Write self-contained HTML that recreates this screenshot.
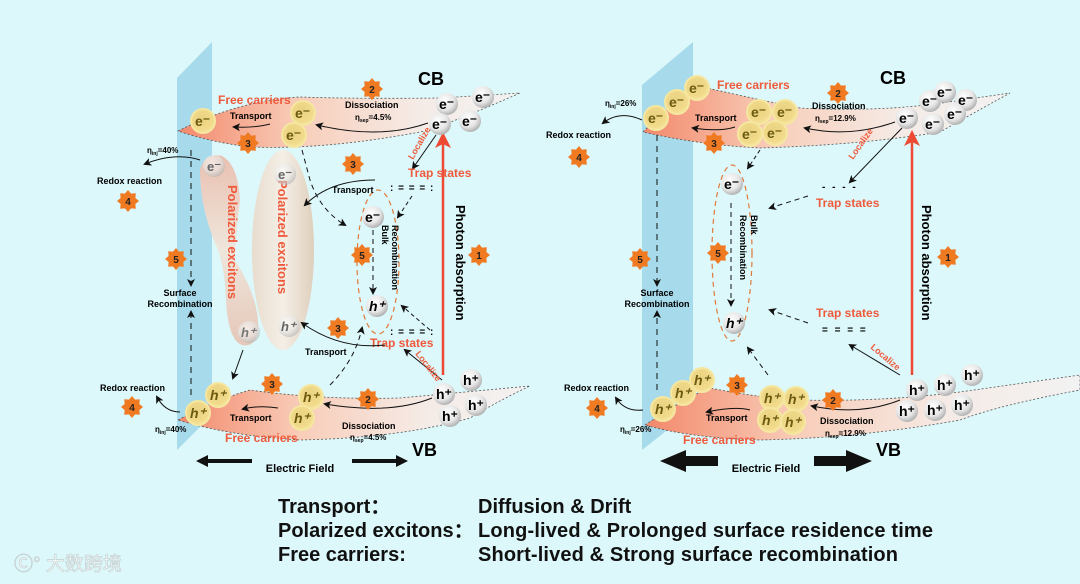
<!DOCTYPE html>
<html><head><meta charset="utf-8"><style>
html,body{margin:0;padding:0;background:#dcf8fa;}
svg{display:block;font-family:"Liberation Sans",Arial,sans-serif;}
.b{font-weight:bold}
.rd{fill:#ef5a3c;font-weight:bold}
</style></head><body>
<svg width="1080" height="584" viewBox="0 0 1080 584" xmlns="http://www.w3.org/2000/svg">
<defs>
<radialGradient id="gp" cx="0.4" cy="0.35" r="0.7"><stop offset="0" stop-color="#ffffff"/><stop offset="0.6" stop-color="#e6e6e6"/><stop offset="1" stop-color="#a8a8a8"/></radialGradient>
<radialGradient id="yp" cx="0.45" cy="0.4" r="0.65"><stop offset="0" stop-color="#e9d280"/><stop offset="0.7" stop-color="#f1da8a"/><stop offset="1" stop-color="#f7e9a8"/></radialGradient>
<linearGradient id="band" x1="0" x2="1" y1="0" y2="0"><stop offset="0" stop-color="#f3886a"/><stop offset="0.35" stop-color="#f8cdb9"/><stop offset="0.7" stop-color="#f5ebe6"/><stop offset="1" stop-color="#f2f2f2"/></linearGradient>
<linearGradient id="exc" x1="0" x2="1"><stop offset="0" stop-color="#e8dccd"/><stop offset="0.5" stop-color="#f4efe6"/><stop offset="1" stop-color="#dfcfbd"/></linearGradient>
<linearGradient id="exc2" x1="0" x2="0" y1="0" y2="1"><stop offset="0" stop-color="#e9c0b0"/><stop offset="0.5" stop-color="#efe6dc"/><stop offset="1" stop-color="#e5c7b8"/></linearGradient>
<polygon id="st" points="0,-11 3.06,-7.39 7.78,-7.78 7.39,-3.06 11,0 7.39,3.06 7.78,7.78 3.06,7.39 0,11 -3.06,7.39 -7.78,7.78 -7.39,3.06 -11,0 -7.39,-3.06 -7.78,-7.78 -3.06,-7.39" fill="#f07a22"/>
<circle id="g" r="11" fill="url(#gp)"/>
<circle id="y" r="12" fill="url(#yp)" stroke="#f5e6a0" stroke-width="2"/>
<marker id="ah" markerWidth="8" markerHeight="8" refX="6" refY="4" orient="auto" markerUnits="userSpaceOnUse"><path d="M0,0 L8,4 L0,8 L2,4 z" fill="#111"/></marker>
<marker id="ar" markerWidth="16" markerHeight="16" refX="8" refY="8" orient="auto" markerUnits="userSpaceOnUse"><path d="M0,0 L16,8 L0,16 L4,8 z" fill="#ee4a33"/></marker>
</defs>
<rect width="1080" height="584" fill="#dcf8fa"/>

<!-- ============ LEFT PANEL ============ -->
<polygon points="177,78 212,42 212,415 177,450" fill="#a7dbec"/>
<path d="M178,131 Q240,100 300,97 Q360,99 440,98 L520,93 Q470,115 430,130 Q330,150 250,147 Q210,142 178,131 Z" fill="url(#band)" stroke="#555" stroke-width="0.8" stroke-dasharray="2,2"/>
<path d="M178,420 Q215,400 250,390 Q320,400 400,398 L530,386 Q500,400 470,418 Q400,438 300,440 Q230,436 178,420 Z" fill="url(#band)" stroke="#555" stroke-width="0.8" stroke-dasharray="2,2"/>
<ellipse cx="283" cy="250" rx="31" ry="100" fill="url(#exc)"/>
<path d="M200,170 Q205,152 222,156 Q238,165 240,200 Q235,240 235,260 Q260,300 258,330 Q255,348 242,345 Q228,340 226,300 Q225,270 218,250 Q200,210 200,170 Z" fill="url(#exc2)"/>
<text class="rd" font-size="13" transform="translate(228,185) rotate(90)">Polarized excitons</text>
<text class="rd" font-size="13" transform="translate(278,180) rotate(90)">Polarized excitons</text>
<use href="#g" x="214" y="166" opacity="0.6"/><text x="207" y="171" font-size="13" class="b" fill="#666">e⁻</text>
<use href="#g" x="285" y="174" opacity="0.6"/><text x="278" y="179" font-size="13" class="b" fill="#666">e⁻</text>
<use href="#g" x="249" y="332" opacity="0.6"/><text x="241" y="337" font-size="13" class="b" font-style="italic" fill="#777">h⁺</text>
<use href="#g" x="289" y="326" opacity="0.6"/><text x="281" y="331" font-size="13" class="b" font-style="italic" fill="#666">h⁺</text>
<ellipse cx="378" cy="262" rx="21" ry="72" fill="none" stroke="#e07a3a" stroke-width="1.2" stroke-dasharray="5,4"/>
<use href="#g" x="373" y="217"/><text x="365" y="222" font-size="14" class="b">e⁻</text>
<use href="#g" x="377" y="306"/><text x="369" y="311" font-size="14" class="b" font-style="italic">h⁺</text>
<line x1="373" y1="230" x2="373" y2="293" stroke="#111" stroke-dasharray="5,4" marker-end="url(#ah)"/>
<text font-size="9" class="b" transform="translate(382,225) rotate(90)">Bulk</text>
<text font-size="9" class="b" transform="translate(392,225) rotate(90)">Recombination</text>
<line x1="443" y1="375" x2="443" y2="140" stroke="#ee4a33" stroke-width="2.5" marker-end="url(#ar)"/>
<text font-size="13" class="b" transform="translate(456,205) rotate(90)">Photon absorption</text>
<line x1="191" y1="150" x2="191" y2="285" stroke="#111" stroke-dasharray="6,5" marker-end="url(#ah)"/>
<line x1="191" y1="395" x2="191" y2="312" stroke="#111" stroke-dasharray="6,5" marker-end="url(#ah)"/>
<text x="180" y="296" font-size="9" class="b" text-anchor="middle">Surface</text>
<text x="180" y="307" font-size="9" class="b" text-anchor="middle">Recombination</text>
<use href="#y" x="203" y="121"/><text x="195" y="126" font-size="14" class="b" fill="#6b5a10">e⁻</text>
<use href="#y" x="303" y="113"/><text x="295" y="118" font-size="14" class="b" fill="#6b5a10">e⁻</text>
<use href="#y" x="294" y="135"/><text x="286" y="140" font-size="14" class="b" fill="#6b5a10">e⁻</text>
<use href="#g" x="447" y="104"/><text x="439" y="109" font-size="14" class="b">e⁻</text>
<use href="#g" x="483" y="97"/><text x="475" y="102" font-size="14" class="b">e⁻</text>
<use href="#g" x="440" y="124"/><text x="432" y="129" font-size="14" class="b">e⁻</text>
<use href="#g" x="470" y="121"/><text x="462" y="126" font-size="14" class="b">e⁻</text>
<text x="418" y="85" font-size="18" class="b">CB</text>
<text x="218" y="104" font-size="12" class="rd">Free carriers</text>
<text x="230" y="119" font-size="9" class="b">Transport</text>
<path d="M270,124 Q255,128 234,127" fill="none" stroke="#111" marker-end="url(#ah)"/>
<text x="345" y="108" font-size="9" class="b">Dissociation</text>
<text x="355" y="120" font-size="8" class="b">η<tspan font-size="5" dy="2">sep</tspan><tspan dy="-2">=4.5%</tspan></text>
<path d="M428,123 Q380,140 317,125" fill="none" stroke="#111" marker-end="url(#ah)"/>
<line x1="436" y1="135" x2="413" y2="168" stroke="#111" marker-end="url(#ah)"/>
<text font-size="9" class="rd" transform="translate(413,160) rotate(-60)">Localize</text>
<text x="408" y="177" font-size="12" class="rd">Trap states</text>
<text x="390" y="191" font-size="10" class="b" letter-spacing="1">: = = = :</text>
<text x="332" y="193" font-size="9" class="b">Transport</text>
<path d="M375,180 Q330,180 305,205" fill="none" stroke="#111" marker-end="url(#ah)"/>
<path d="M302,150 L310,180 Q320,210 345,225" fill="none" stroke="#111" stroke-dasharray="5,4" marker-end="url(#ah)"/>
<line x1="412" y1="196" x2="398" y2="217" stroke="#111" stroke-dasharray="4,3" marker-end="url(#ah)"/>
<text x="390" y="335" font-size="10" class="b" letter-spacing="1">: = = = :</text>
<text x="370" y="347" font-size="12" class="rd">Trap states</text>
<text x="305" y="355" font-size="9" class="b">Transport</text>
<path d="M385,345 Q340,350 302,323" fill="none" stroke="#111" marker-end="url(#ah)"/>
<line x1="430" y1="330" x2="402" y2="306" stroke="#111" stroke-dasharray="4,3" marker-end="url(#ah)"/>
<path d="M330,385 Q355,360 362,328" fill="none" stroke="#111" stroke-dasharray="5,4" marker-end="url(#ah)"/>
<line x1="442" y1="380" x2="405" y2="350" stroke="#111" marker-end="url(#ah)"/>
<text font-size="9" class="rd" transform="translate(415,354) rotate(52)">Localize</text>
<line x1="243" y1="350" x2="233" y2="378" stroke="#111" marker-end="url(#ah)"/>
<use href="#y" x="218" y="395"/><text x="210" y="400" font-size="14" class="b" font-style="italic" fill="#6b5a10">h⁺</text>
<use href="#y" x="198" y="413"/><text x="190" y="418" font-size="14" class="b" font-style="italic" fill="#6b5a10">h⁺</text>
<use href="#y" x="311" y="397"/><text x="303" y="402" font-size="14" class="b" font-style="italic" fill="#6b5a10">h⁺</text>
<use href="#y" x="302" y="418"/><text x="294" y="423" font-size="14" class="b" font-style="italic" fill="#6b5a10">h⁺</text>
<use href="#g" x="444" y="394"/><text x="436" y="399" font-size="14" class="b">h⁺</text>
<use href="#g" x="471" y="380"/><text x="463" y="385" font-size="14" class="b">h⁺</text>
<use href="#g" x="450" y="416"/><text x="442" y="421" font-size="14" class="b">h⁺</text>
<use href="#g" x="476" y="405"/><text x="468" y="410" font-size="14" class="b">h⁺</text>
<text x="230" y="421" font-size="9" class="b">Transport</text>
<path d="M278,408 Q260,405 243,409" fill="none" stroke="#111" marker-end="url(#ah)"/>
<text x="225" y="442" font-size="12" class="rd">Free carriers</text>
<text x="342" y="429" font-size="9" class="b">Dissociation</text>
<text x="350" y="440" font-size="8" class="b">η<tspan font-size="5" dy="2">sep</tspan><tspan dy="-2">=4.5%</tspan></text>
<path d="M432,398 Q390,415 325,404" fill="none" stroke="#111" marker-end="url(#ah)"/>
<text x="412" y="456" font-size="18" class="b">VB</text>
<text x="100" y="391" font-size="9" class="b">Redox reaction</text>
<path d="M180,412 Q165,412 157,397" fill="none" stroke="#111" marker-end="url(#ah)"/>
<text x="155" y="432" font-size="8" class="b">η<tspan font-size="5" dy="2">inj</tspan><tspan dy="-2">=40%</tspan></text>
<text x="97" y="184" font-size="9" class="b">Redox reaction</text>
<path d="M200,160 Q175,152 145,164" fill="none" stroke="#111" marker-end="url(#ah)"/>
<text x="147" y="153" font-size="8" class="b">η<tspan font-size="5" dy="2">inj</tspan><tspan dy="-2">=40%</tspan></text>
<path d="M196,461 L208,455 L208,459 L252,459 L252,463 L208,463 L208,467 Z" fill="#111"/>
<path d="M408,461 L396,455 L396,459 L352,459 L352,463 L396,463 L396,467 Z" fill="#111"/>
<text x="300" y="472" font-size="11" class="b" text-anchor="middle">Electric Field</text>
<g font-size="10" class="b" text-anchor="middle" fill="#222">
<use href="#st" x="372" y="89"/><text x="372" y="93">2</text>
<use href="#st" x="248" y="143"/><text x="248" y="147">3</text>
<use href="#st" x="353" y="164"/><text x="353" y="168">3</text>
<use href="#st" x="128" y="201"/><text x="128" y="205">4</text>
<use href="#st" x="176" y="259"/><text x="176" y="263">5</text>
<use href="#st" x="362" y="255"/><text x="362" y="259">5</text>
<use href="#st" x="479" y="255"/><text x="479" y="259">1</text>
<use href="#st" x="338" y="328"/><text x="338" y="332">3</text>
<use href="#st" x="272" y="384"/><text x="272" y="388">3</text>
<use href="#st" x="368" y="399"/><text x="368" y="403">2</text>
<use href="#st" x="132" y="407"/><text x="132" y="411">4</text>
</g>

<!-- ============ RIGHT PANEL ============ -->
<polygon points="642,85 693,42 693,410 642,450" fill="#a7dbec"/>
<path d="M643,132 Q680,95 707,88 Q760,100 800,108 Q870,112 935,104 L1010,93 Q970,115 940,132 Q860,145 760,148 Q700,145 643,132 Z" fill="url(#band)" stroke="#555" stroke-width="0.8" stroke-dasharray="2,2"/>
<path d="M645,425 Q690,395 710,388 Q760,398 800,400 Q880,402 960,392 L1080,375 L1080,390 Q1000,405 960,420 Q860,438 760,440 Q690,438 645,425 Z" fill="url(#band)" stroke="#555" stroke-width="0.8" stroke-dasharray="2,2"/>
<ellipse cx="732" cy="253" rx="20" ry="88" fill="none" stroke="#e07a3a" stroke-width="1.2" stroke-dasharray="5,4"/>
<use href="#g" x="732" y="184"/><text x="724" y="189" font-size="14" class="b">e⁻</text>
<use href="#g" x="734" y="323"/><text x="726" y="328" font-size="14" class="b" font-style="italic">h⁺</text>
<line x1="731" y1="203" x2="731" y2="305" stroke="#111" stroke-dasharray="5,4" marker-end="url(#ah)"/>
<text font-size="9" class="b" transform="translate(751,215) rotate(90)">Bulk</text>
<text font-size="9" class="b" transform="translate(740,215) rotate(90)">Recombination</text>
<line x1="912" y1="375" x2="912" y2="138" stroke="#ee4a33" stroke-width="2.5" marker-end="url(#ar)"/>
<text font-size="13" class="b" transform="translate(922,205) rotate(90)">Photon absorption</text>
<line x1="657" y1="135" x2="657" y2="285" stroke="#111" stroke-dasharray="6,5" marker-end="url(#ah)"/>
<line x1="657" y1="390" x2="657" y2="312" stroke="#111" stroke-dasharray="6,5" marker-end="url(#ah)"/>
<text x="657" y="296" font-size="9" class="b" text-anchor="middle">Surface</text>
<text x="657" y="307" font-size="9" class="b" text-anchor="middle">Recombination</text>
<use href="#y" x="656" y="118"/><text x="648" y="123" font-size="14" class="b" fill="#6b5a10">e⁻</text>
<use href="#y" x="677" y="102"/><text x="669" y="107" font-size="14" class="b" fill="#6b5a10">e⁻</text>
<use href="#y" x="697" y="88"/><text x="689" y="93" font-size="14" class="b" fill="#6b5a10">e⁻</text>
<use href="#y" x="759" y="112"/><text x="751" y="117" font-size="14" class="b" fill="#6b5a10">e⁻</text>
<use href="#y" x="785" y="112"/><text x="777" y="117" font-size="14" class="b" fill="#6b5a10">e⁻</text>
<use href="#y" x="750" y="134"/><text x="742" y="139" font-size="14" class="b" fill="#6b5a10">e⁻</text>
<use href="#y" x="775" y="133"/><text x="767" y="138" font-size="14" class="b" fill="#6b5a10">e⁻</text>
<use href="#g" x="907" y="118"/><text x="899" y="123" font-size="14" class="b">e⁻</text>
<use href="#g" x="930" y="101"/><text x="922" y="106" font-size="14" class="b">e⁻</text>
<use href="#g" x="945" y="92"/><text x="937" y="97" font-size="14" class="b">e⁻</text>
<use href="#g" x="966" y="100"/><text x="958" y="105" font-size="14" class="b">e⁻</text>
<use href="#g" x="933" y="124"/><text x="925" y="129" font-size="14" class="b">e⁻</text>
<use href="#g" x="955" y="114"/><text x="947" y="119" font-size="14" class="b">e⁻</text>
<text x="880" y="84" font-size="18" class="b">CB</text>
<text x="717" y="89" font-size="12" class="rd">Free carriers</text>
<text x="695" y="121" font-size="9" class="b">Transport</text>
<path d="M735,127 Q720,132 693,128" fill="none" stroke="#111" marker-end="url(#ah)"/>
<text x="812" y="109" font-size="9" class="b">Dissociation</text>
<text x="815" y="121" font-size="8" class="b">η<tspan font-size="5" dy="2">sep</tspan><tspan dy="-2">=12.9%</tspan></text>
<path d="M895,122 Q850,138 805,128" fill="none" stroke="#111" marker-end="url(#ah)"/>
<line x1="902" y1="128" x2="850" y2="182" stroke="#111" marker-end="url(#ah)"/>
<text font-size="9" class="rd" transform="translate(853,160) rotate(-55)">Localize</text>
<text x="822" y="190" font-size="10" class="b" letter-spacing="2">- - - -</text>
<text x="816" y="207" font-size="12" class="rd">Trap states</text>
<line x1="808" y1="196" x2="770" y2="208" stroke="#111" stroke-dasharray="5,4" marker-end="url(#ah)"/>
<line x1="760" y1="150" x2="748" y2="168" stroke="#111" stroke-dasharray="4,3" marker-end="url(#ah)"/>
<text x="816" y="317" font-size="12" class="rd">Trap states</text>
<text x="822" y="333" font-size="10" class="b" letter-spacing="2">= = = =</text>
<line x1="808" y1="323" x2="770" y2="310" stroke="#111" stroke-dasharray="5,4" marker-end="url(#ah)"/>
<line x1="768" y1="375" x2="748" y2="348" stroke="#111" stroke-dasharray="5,4" marker-end="url(#ah)"/>
<line x1="900" y1="375" x2="850" y2="345" stroke="#111" marker-end="url(#ah)"/>
<text font-size="9" class="rd" transform="translate(870,348) rotate(40)">Localize</text>
<use href="#y" x="663" y="409"/><text x="655" y="414" font-size="14" class="b" font-style="italic" fill="#6b5a10">h⁺</text>
<use href="#y" x="683" y="393"/><text x="675" y="398" font-size="14" class="b" font-style="italic" fill="#6b5a10">h⁺</text>
<use href="#y" x="702" y="380"/><text x="694" y="385" font-size="14" class="b" font-style="italic" fill="#6b5a10">h⁺</text>
<use href="#y" x="772" y="398"/><text x="764" y="403" font-size="14" class="b" font-style="italic" fill="#6b5a10">h⁺</text>
<use href="#y" x="796" y="399"/><text x="788" y="404" font-size="14" class="b" font-style="italic" fill="#6b5a10">h⁺</text>
<use href="#y" x="770" y="420"/><text x="762" y="425" font-size="14" class="b" font-style="italic" fill="#6b5a10">h⁺</text>
<use href="#y" x="793" y="422"/><text x="785" y="427" font-size="14" class="b" font-style="italic" fill="#6b5a10">h⁺</text>
<use href="#g" x="917" y="390"/><text x="909" y="395" font-size="14" class="b">h⁺</text>
<use href="#g" x="945" y="385"/><text x="937" y="390" font-size="14" class="b">h⁺</text>
<use href="#g" x="972" y="375"/><text x="964" y="380" font-size="14" class="b">h⁺</text>
<use href="#g" x="907" y="411"/><text x="899" y="416" font-size="14" class="b">h⁺</text>
<use href="#g" x="935" y="410"/><text x="927" y="415" font-size="14" class="b">h⁺</text>
<use href="#g" x="962" y="405"/><text x="954" y="410" font-size="14" class="b">h⁺</text>
<text x="706" y="421" font-size="9" class="b">Transport</text>
<path d="M750,410 Q735,406 707,412" fill="none" stroke="#111" marker-end="url(#ah)"/>
<text x="683" y="444" font-size="12" class="rd">Free carriers</text>
<text x="820" y="424" font-size="9" class="b">Dissociation</text>
<text x="825" y="436" font-size="8" class="b">η<tspan font-size="5" dy="2">sep</tspan><tspan dy="-2">=12.9%</tspan></text>
<path d="M900,400 Q860,416 812,406" fill="none" stroke="#111" marker-end="url(#ah)"/>
<text x="876" y="456" font-size="18" class="b">VB</text>
<text x="564" y="391" font-size="9" class="b">Redox reaction</text>
<path d="M643,410 Q625,412 616,398" fill="none" stroke="#111" marker-end="url(#ah)"/>
<text x="620" y="432" font-size="8" class="b">η<tspan font-size="5" dy="2">inj</tspan><tspan dy="-2">=26%</tspan></text>
<text x="546" y="138" font-size="9" class="b">Redox reaction</text>
<path d="M642,120 Q620,110 603,123" fill="none" stroke="#111" marker-end="url(#ah)"/>
<text x="605" y="106" font-size="8" class="b">η<tspan font-size="5" dy="2">inj</tspan><tspan dy="-2">=26%</tspan></text>
<path d="M660,461 L686,450 L686,456 L718,456 L718,466 L686,466 L686,472 Z" fill="#111"/>
<path d="M872,461 L846,450 L846,456 L814,456 L814,466 L846,466 L846,472 Z" fill="#111"/>
<text x="766" y="472" font-size="11" class="b" text-anchor="middle">Electric Field</text>
<g font-size="10" class="b" text-anchor="middle" fill="#222">
<use href="#st" x="838" y="93"/><text x="838" y="97">2</text>
<use href="#st" x="714" y="143"/><text x="714" y="147">3</text>
<use href="#st" x="579" y="157"/><text x="579" y="161">4</text>
<use href="#st" x="640" y="259"/><text x="640" y="263">5</text>
<use href="#st" x="718" y="253"/><text x="718" y="257">5</text>
<use href="#st" x="948" y="257"/><text x="948" y="261">1</text>
<use href="#st" x="737" y="385"/><text x="737" y="389">3</text>
<use href="#st" x="833" y="400"/><text x="833" y="404">2</text>
<use href="#st" x="597" y="408"/><text x="597" y="412">4</text>
</g>

<g font-size="20" class="b" fill="#111">
<text x="278" y="513">Transport：</text>
<text x="478" y="513">Diffusion &amp; Drift</text>
<text x="278" y="537">Polarized excitons：</text>
<text x="478" y="537" textLength="455">Long-lived &amp; Prolonged surface residence time</text>
<text x="278" y="561">Free carriers:</text>
<text x="478" y="561" textLength="420">Short-lived &amp; Strong surface recombination</text>
</g>
<text x="14" y="570" font-size="19" fill="#ffffff" stroke="#c8d4d6" stroke-width="0.8" font-family="'Liberation Sans','Noto Sans CJK SC',sans-serif">Ⓒ° 大数跨境</text>
</svg>
</body></html>
